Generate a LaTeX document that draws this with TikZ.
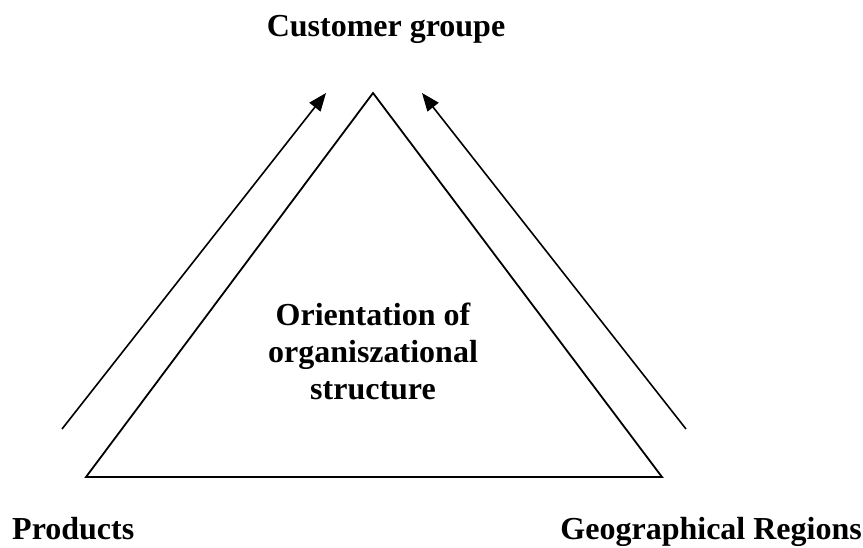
\documentclass[tikz,border=0pt]{standalone}
\usepackage{fontspec}
\setmainfont{Liberation Serif}
\usetikzlibrary{arrows.meta}

\tikzset{
  lbl/.style={font=\fontsize{32}{37}\selectfont\bfseries,inner sep=0pt},
  arr/.style={line width=1.6pt,-{Triangle[length=18pt,width=14pt]}}
}

\begin{document}
\begin{tikzpicture}[x=1pt,y=-1pt]
      \useasboundingbox (0,0) rectangle (863,547);
      \draw[line width=1.8pt]
        (86,477) coordinate (L) -- (373,93) coordinate (T) -- (662,477) coordinate (R) -- cycle;
      \draw
        (386,36) node[lbl,anchor=base] (cust){Customer groupe}
        (373,351) node[lbl,align=center] (orient){Orientation of\\organiszational\\structure}
        (12,539) node[lbl,anchor=base west] (prod){Products}
        (862,539) node[lbl,anchor=base east] (geo){Geographical Regions};
      \coordinate (a0) at (62,429);
      \coordinate (a1) at (326,93);
      \coordinate (b0) at (686,429);
      \coordinate (b1) at (422,93);
      \begin{scope}[arr]
        \draw (a0) -- (a1);
        \draw (b0) -- (b1);
      \end{scope}
    \end{tikzpicture}
\end{document}
